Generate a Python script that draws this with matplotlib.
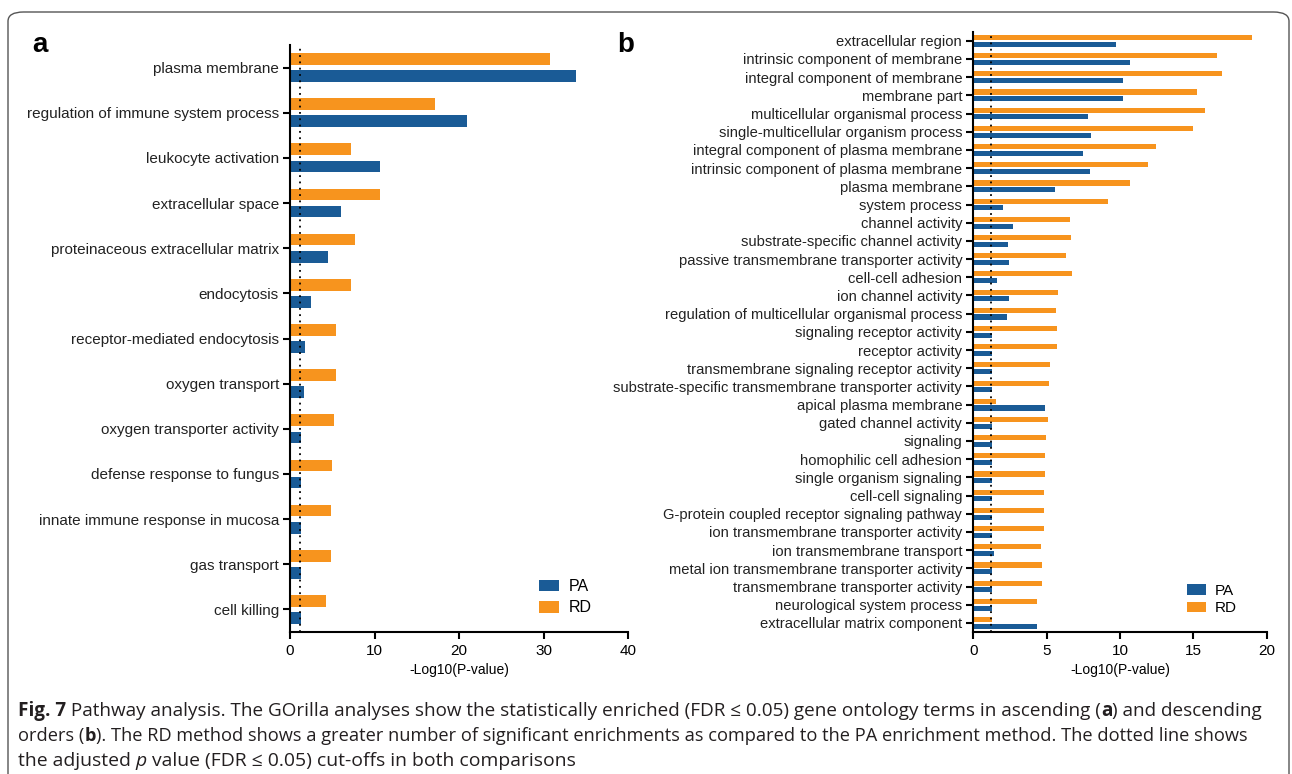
import matplotlib
matplotlib.use("Agg")
import matplotlib.pyplot as plt
from matplotlib.patches import FancyBboxPatch
import numpy as np

plt.rcParams['font.family'] = ['Liberation Sans', 'DejaVu Sans']

# ---------------- data ----------------
terms_a = ["plasma membrane", "regulation of immune system process", "leukocyte activation",
           "extracellular space", "proteinaceous extracellular matrix", "endocytosis",
           "receptor-mediated endocytosis", "oxygen transport", "oxygen transporter activity",
           "defense response to fungus", "innate immune response in mucosa", "gas transport",
           "cell killing"]
pa_a = [33.9, 21.0, 10.6, 6.0, 4.55, 2.5, 1.8, 1.7, 1.35, 1.3, 1.3, 1.3, 1.3]
rd_a = [30.8, 17.2, 7.2, 10.7, 7.75, 7.2, 5.5, 5.5, 5.15, 5.0, 4.8, 4.8, 4.3]

terms_b = ["extracellular region", "intrinsic component of membrane", "integral component of membrane",
           "membrane part", "multicellular organismal process", "single-multicellular organism process",
           "integral component of plasma membrane", "intrinsic component of plasma membrane",
           "plasma membrane", "system process", "channel activity", "substrate-specific channel activity",
           "passive transmembrane transporter activity", "cell-cell adhesion", "ion channel activity",
           "regulation of multicellular organismal process", "signaling receptor activity",
           "receptor activity", "transmembrane signaling receptor activity",
           "substrate-specific transmembrane transporter activity", "apical plasma membrane",
           "gated channel activity", "signaling", "homophilic cell adhesion",
           "single organism signaling", "cell-cell signaling",
           "G-protein coupled receptor signaling pathway", "ion transmembrane transporter activity",
           "ion transmembrane transport", "metal ion transmembrane transporter activity",
           "transmembrane transporter activity", "neurological system process",
           "extracellular matrix component"]
pa_b = [9.73, 10.7, 10.2, 10.2, 7.8, 8.0, 7.48, 7.95, 5.57, 2.02, 2.7, 2.36, 2.43, 1.61, 2.43,
        2.3, 1.27, 1.27, 1.27, 1.27, 4.89, 1.27, 1.27, 1.27, 1.27, 1.27, 1.27, 1.27, 1.41,
        1.27, 1.27, 1.27, 4.34]
rd_b = [19.0, 16.6, 16.95, 15.25, 15.8, 14.98, 12.45, 11.9, 10.7, 9.18, 6.6, 6.66, 6.32, 6.73,
        5.77, 5.64, 5.7, 5.7, 5.23, 5.16, 1.55, 5.09, 4.95, 4.89, 4.89, 4.82, 4.82, 4.82, 4.61,
        4.68, 4.68, 4.34, 1.27]
cutoff = 1.2
series_names = ["PA", "RD"]
xticks_a = [0, 10, 20, 30, 40]
xticks_b = [0, 5, 10, 15, 20]

BLUE = "#1a5b96"
ORANGE = "#f7941e"

W, H = 1292, 774
fig = plt.figure(figsize=(W / 100, H / 100), dpi=100)

# border
border = FancyBboxPatch((8 / W, -0.05), (1281) / W, (774 - 12) / H + 0.05,
                        boxstyle="round,pad=0,rounding_size=0.012",
                        transform=fig.transFigure, fill=False, edgecolor="#555555",
                        linewidth=1.0, clip_on=False)
fig.patches.append(border)


def panel(rect, terms, pa, rd, xticks, h, off, labelsize, leg_xy, legsize, labelspacing,
          hlen, hh, tpad):
    ax = fig.add_axes(rect)
    y = np.arange(len(terms))
    ax.barh(y + off, pa, height=h, color=BLUE, label=series_names[0])
    ax.barh(y - off, rd, height=h, color=ORANGE, label=series_names[1])
    ax.axvline(cutoff, color="black", linestyle=(0, (1, 2.5)), linewidth=1.3)
    ax.set_ylim(len(terms) - 0.5, -0.5)
    ax.set_xlim(xticks[0], xticks[-1])
    ax.set_yticks(y)
    ax.set_yticklabels(terms, fontsize=labelsize, color="#222222")
    ax.set_xticks(xticks)
    ax.set_xticklabels([str(t) for t in xticks], fontsize=11)
    for s in ["top", "right"]:
        ax.spines[s].set_visible(False)
    for s in ["left", "bottom"]:
        ax.spines[s].set_linewidth(1.5)
    ax.tick_params(axis="both", length=5, width=1.5, direction="out")
    ax.tick_params(axis="y", pad=3)
    ax.set_xlabel("-Log10(P-value)", fontsize=10, labelpad=4)
    ax.legend(loc="upper left", bbox_to_anchor=(leg_xy[0] / W, 1 - leg_xy[1] / H),
              bbox_transform=fig.transFigure, frameon=False, fontsize=legsize,
              handlelength=hlen, handleheight=hh, handletextpad=tpad,
              labelspacing=labelspacing, borderaxespad=0, borderpad=0)
    return ax


ax_a = panel([290 / W, 1 - 632 / H, 338 / W, 587 / H], terms_a, pa_a, rd_a, xticks_a,
             0.26, 0.19, 11, (539, 579), 11.5, 0.4, 1.25, 0.72, 0.6)
ax_b = panel([973.3 / W, 1 - 632 / H, 293.3 / W, 600.3 / H], terms_b, pa_b, rd_b, xticks_b,
             0.28, 0.185, 10.6, (1186.5, 584), 11, 0.22, 1.3, 0.72, 0.55)

fig.text(32 / W, 1 - 45 / H, "a", fontsize=20, fontweight="bold", va="center", ha="left")
fig.text(617 / W, 1 - 45 / H, "b", fontsize=20, fontweight="bold", va="center", ha="left")

# caption with mixed styles
cap_font = ['Open Sans', 'DejaVu Sans']
lines = [
    [("Fig. 7", "bold", "normal"),
     (" Pathway analysis. The GOrilla analyses show the statistically enriched (FDR \u2264 0.05) gene ontology terms in ascending (", "normal", "normal"),
     ("a", "bold", "normal"), (") and descending", "normal", "normal")],
    [("orders (", "normal", "normal"), ("b", "bold", "normal"),
     ("). The RD method shows a greater number of significant enrichments as compared to the PA enrichment method. The dotted line shows", "normal", "normal")],
    [("the adjusted ", "normal", "normal"), ("p", "normal", "italic"),
     (" value (FDR \u2264 0.05) cut-offs in both comparisons", "normal", "normal")],
]
targets = [1262, 1250, 577]
fig.canvas.draw()
renderer = fig.canvas.get_renderer()
ys = [711, 736, 761]
x0 = 18
for segs, yy, tgt in zip(lines, ys, targets):
    base = 13.6
    total = 0
    for txt, wt, st in segs:
        t = fig.text(0, 0, txt, fontsize=base, fontweight=wt, fontstyle=st, family=cap_font)
        total += t.get_window_extent(renderer=renderer).width
        t.remove()
    fs = base * (tgt - x0) / total
    x = x0
    for txt, wt, st in segs:
        t = fig.text(x / W, 1 - yy / H, txt, fontsize=fs, fontweight=wt, fontstyle=st,
                     family=cap_font, va="center", ha="left", color="#231f20")
        x += t.get_window_extent(renderer=renderer).width

fig.savefig("out.png", dpi=100)
